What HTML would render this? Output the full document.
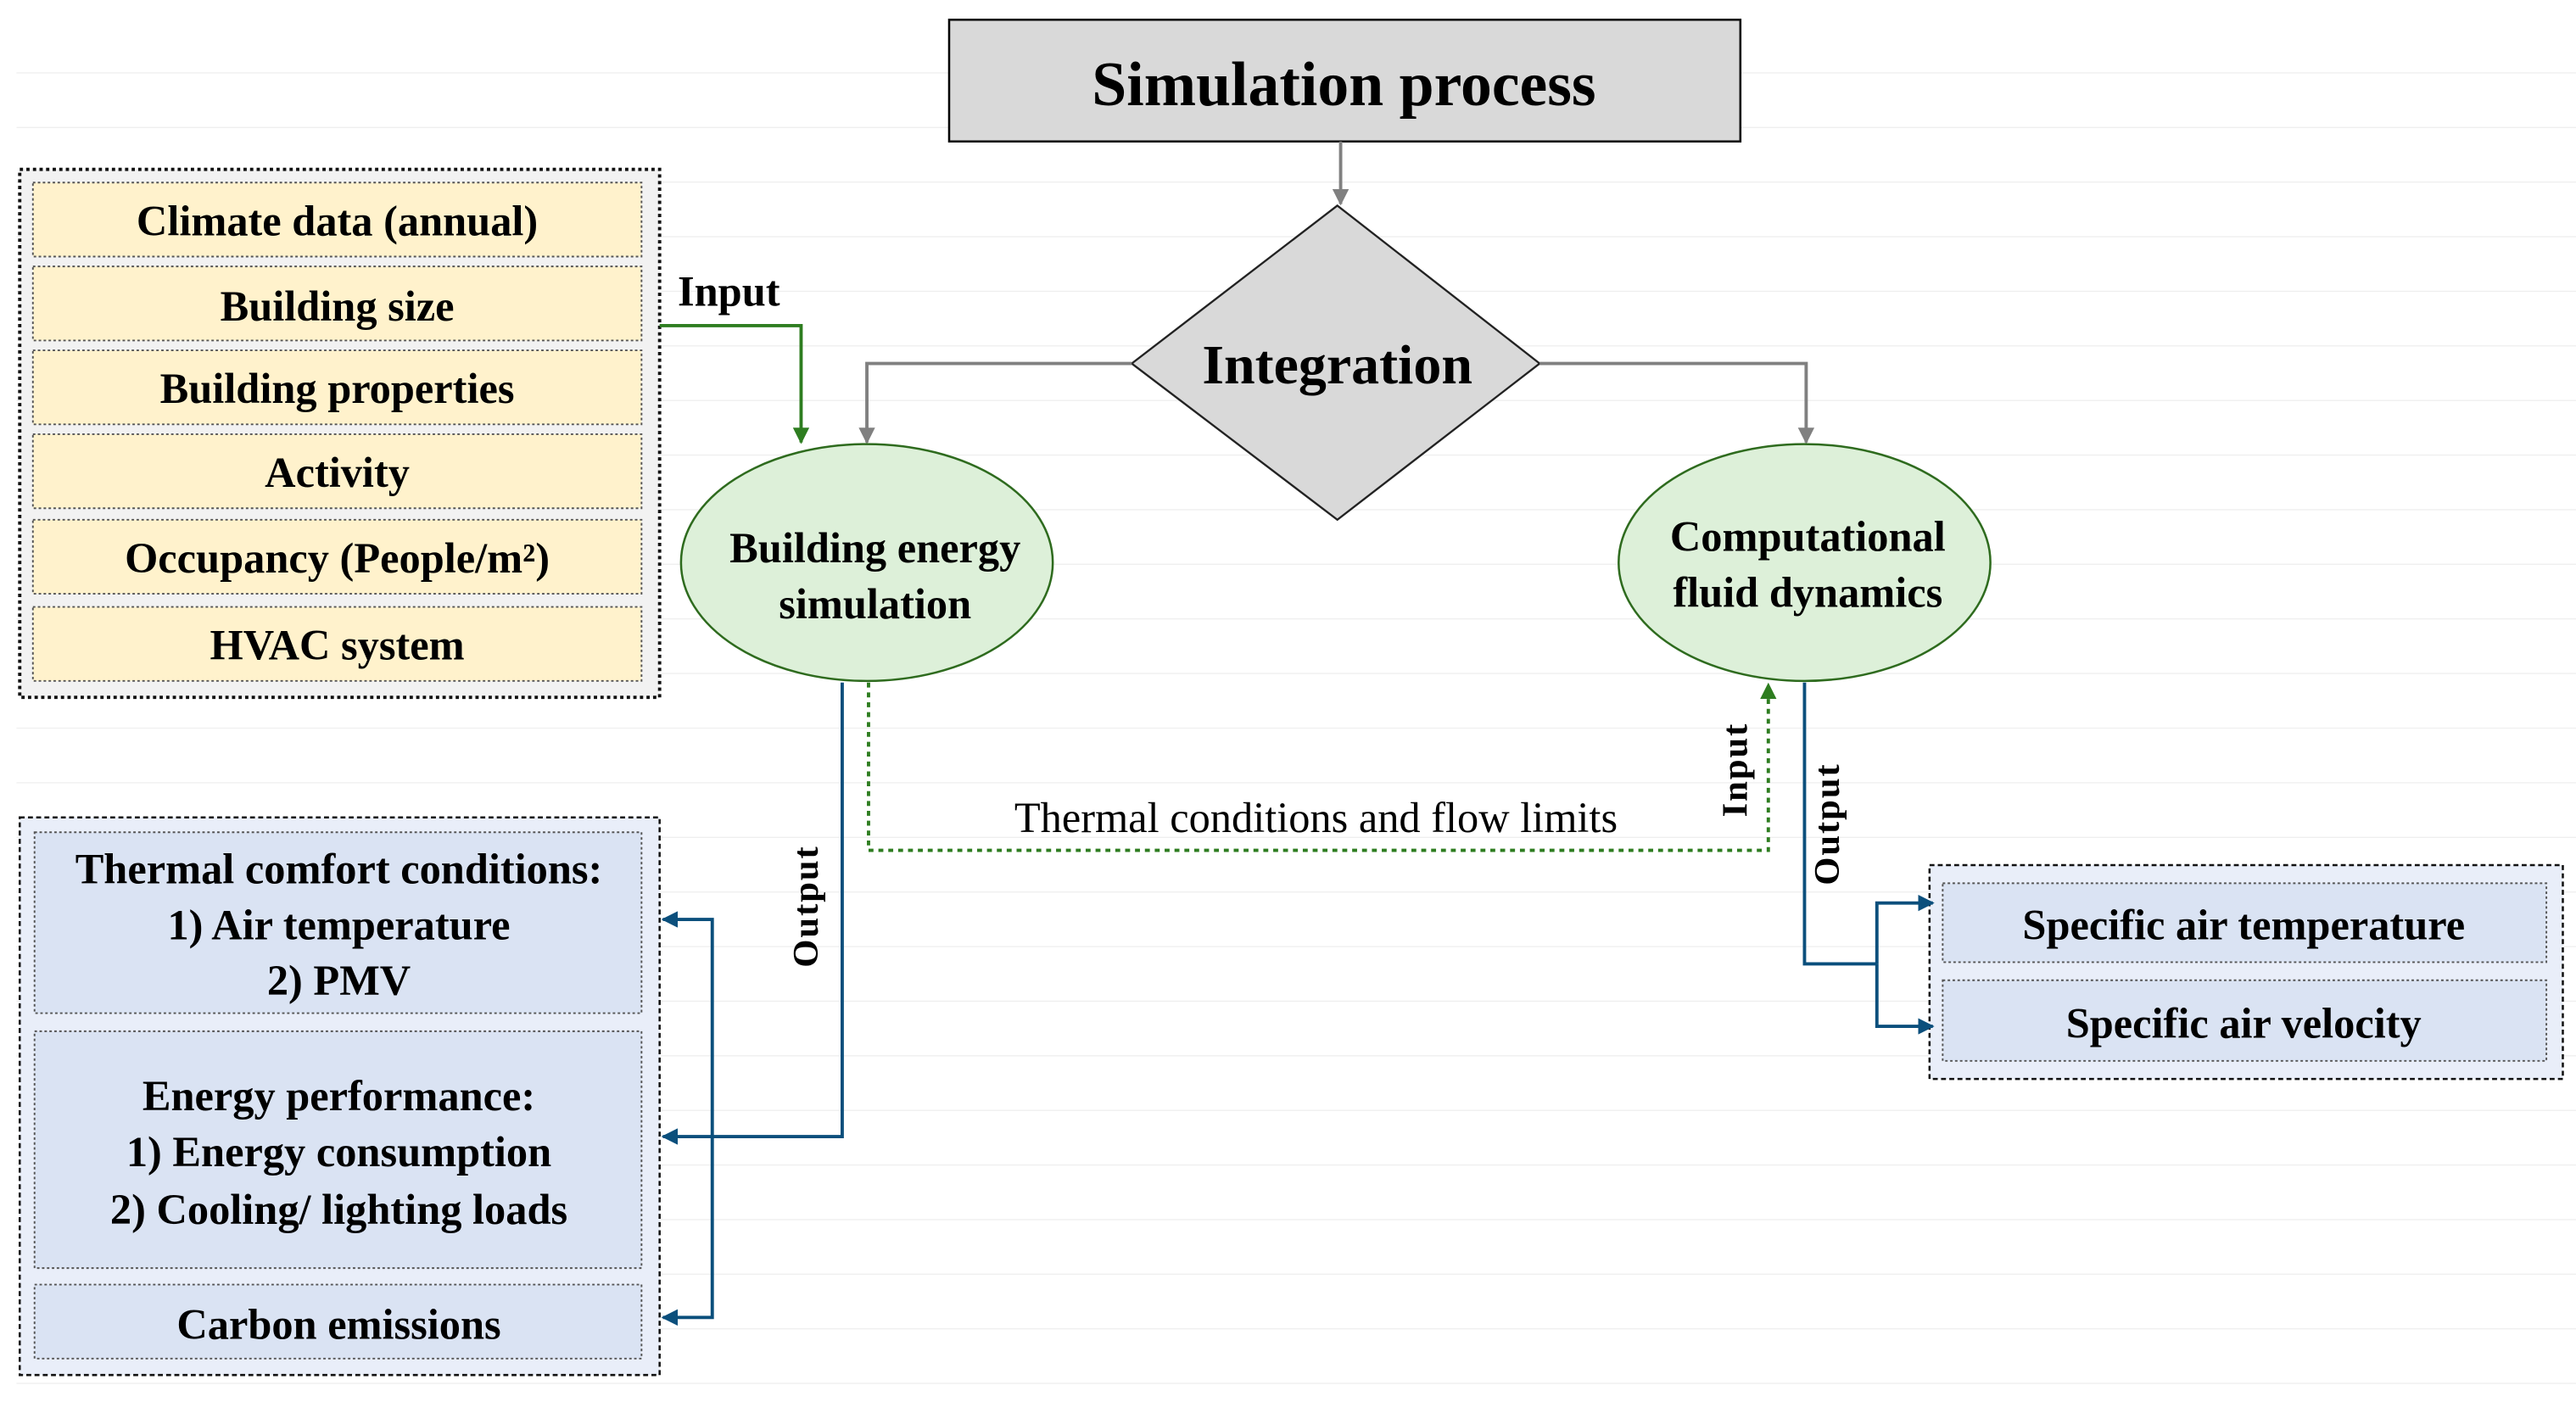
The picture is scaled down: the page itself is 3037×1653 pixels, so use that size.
<!DOCTYPE html>
<html><head><meta charset="utf-8"><style>
html,body{margin:0;padding:0;background:#fff}
svg{display:block}
text{font-family:"Liberation Serif",serif;font-weight:bold;fill:#000}
</style></head><body>
<svg width="3037" height="1653" viewBox="0 0 1566 852.4" preserveAspectRatio="none" xmlns="http://www.w3.org/2000/svg">
<defs>
<marker id="ag" viewBox="0 0 10 10" refX="9" refY="5" markerWidth="5" markerHeight="5" orient="auto"><path d="M0,0L10,5L0,10z" fill="#808080"/></marker>
<marker id="agr" viewBox="0 0 10 10" refX="9" refY="5" markerWidth="5" markerHeight="5" orient="auto"><path d="M0,0L10,5L0,10z" fill="#2e7d20"/></marker>
<marker id="ab" viewBox="0 0 10 10" refX="9" refY="5" markerWidth="5" markerHeight="5" orient="auto"><path d="M0,0L10,5L0,10z" fill="#0b4f7c"/></marker>
</defs>
<g stroke="#efefef" stroke-width="0.7">
<line x1="10" y1="44.3" x2="1566" y2="44.3"/><line x1="10" y1="77.5" x2="1566" y2="77.5"/><line x1="10" y1="110.7" x2="1566" y2="110.7"/><line x1="10" y1="143.9" x2="1566" y2="143.9"/><line x1="10" y1="177.1" x2="1566" y2="177.1"/><line x1="10" y1="210.3" x2="1566" y2="210.3"/><line x1="10" y1="243.5" x2="1566" y2="243.5"/><line x1="10" y1="276.7" x2="1566" y2="276.7"/><line x1="10" y1="309.9" x2="1566" y2="309.9"/><line x1="10" y1="343.1" x2="1566" y2="343.1"/><line x1="10" y1="376.3" x2="1566" y2="376.3"/><line x1="10" y1="409.5" x2="1566" y2="409.5"/><line x1="10" y1="442.7" x2="1566" y2="442.7"/><line x1="10" y1="475.9" x2="1566" y2="475.9"/><line x1="10" y1="509.1" x2="1566" y2="509.1"/><line x1="10" y1="542.3" x2="1566" y2="542.3"/><line x1="10" y1="575.5" x2="1566" y2="575.5"/><line x1="10" y1="608.7" x2="1566" y2="608.7"/><line x1="10" y1="641.9" x2="1566" y2="641.9"/><line x1="10" y1="675.1" x2="1566" y2="675.1"/><line x1="10" y1="708.3" x2="1566" y2="708.3"/><line x1="10" y1="741.5" x2="1566" y2="741.5"/><line x1="10" y1="774.7" x2="1566" y2="774.7"/><line x1="10" y1="807.9" x2="1566" y2="807.9"/><line x1="10" y1="841.1" x2="1566" y2="841.1"/>
</g>
<rect x="577" y="12" width="481" height="74" fill="#d9d9d9" stroke="#000" stroke-width="1.3"/>
<text x="817" y="64" font-size="38" text-anchor="middle">Simulation process</text>
<line x1="815" y1="86" x2="815" y2="124" stroke="#808080" stroke-width="2" marker-end="url(#ag)"/>
<polygon points="813,125 936,221 813,316 688,221" fill="#d9d9d9" stroke="#222" stroke-width="1.2"/>
<text x="813" y="233" font-size="34" text-anchor="middle">Integration</text>
<polyline points="688,221 527,221 527,269" fill="none" stroke="#808080" stroke-width="2" marker-end="url(#ag)"/>
<polyline points="936,221 1098,221 1098,269" fill="none" stroke="#808080" stroke-width="2" marker-end="url(#ag)"/>
<ellipse cx="527" cy="342" rx="113" ry="72" fill="#ddf0d9" stroke="#2e6b1e" stroke-width="1.3"/>
<text x="532" y="342" font-size="26" text-anchor="middle">Building energy</text>
<text x="532" y="376" font-size="26" text-anchor="middle">simulation</text>
<ellipse cx="1097" cy="342" rx="113" ry="72" fill="#ddf0d9" stroke="#2e6b1e" stroke-width="1.3"/>
<text x="1099" y="335" font-size="26" text-anchor="middle">Computational</text>
<text x="1099" y="369" font-size="26" text-anchor="middle">fluid dynamics</text>
<rect x="12" y="103" width="389" height="321" fill="#f2f2f2" stroke="#111" stroke-width="2" stroke-dasharray="2,2"/>
<g fill="#fff2cc" stroke="#555" stroke-width="1" stroke-dasharray="1.5,1.5">
<rect x="20" y="111" width="370" height="45"/><rect x="20" y="162" width="370" height="45"/><rect x="20" y="213" width="370" height="45"/><rect x="20" y="264" width="370" height="45"/><rect x="20" y="316" width="370" height="45"/><rect x="20" y="369" width="370" height="45"/>
</g>
<g font-size="26" text-anchor="middle">
<text x="205" y="143">Climate data (annual)</text>
<text x="205" y="195">Building size</text>
<text x="205" y="245">Building properties</text>
<text x="205" y="296">Activity</text>
<text x="205" y="348">Occupancy (People/m²)</text>
<text x="205" y="401">HVAC system</text>
</g>
<text x="412" y="186" font-size="26">Input</text>
<polyline points="401,198 487,198 487,269" fill="none" stroke="#2e7d20" stroke-width="2" marker-end="url(#agr)"/>
<rect x="12" y="497" width="389" height="339" fill="#e9eef9" stroke="#111" stroke-width="1.3" stroke-dasharray="3,2"/>
<g fill="#dae3f3" stroke="#555" stroke-width="1" stroke-dasharray="1.5,1.5">
<rect x="21" y="506" width="369" height="110"/><rect x="21" y="627" width="369" height="144"/><rect x="21" y="781" width="369" height="45"/>
</g>
<g font-size="26" text-anchor="middle">
<text x="206" y="537">Thermal comfort conditions:</text>
<text x="206" y="571">1) Air temperature</text>
<text x="206" y="605">2) PMV</text>
<text x="206" y="675">Energy performance:</text>
<text x="206" y="709">1) Energy consumption</text>
<text x="206" y="744">2) Cooling/ lighting loads</text>
<text x="206" y="814">Carbon emissions</text>
</g>
<polyline points="512,415 512,691 403,691" fill="none" stroke="#0b4f7c" stroke-width="2" marker-end="url(#ab)"/>
<polyline points="433,691 433,559 403,559" fill="none" stroke="#0b4f7c" stroke-width="2" marker-end="url(#ab)"/>
<polyline points="433,691 433,801 403,801" fill="none" stroke="#0b4f7c" stroke-width="2" marker-end="url(#ab)"/>
<text transform="translate(497,551) rotate(-90)" font-size="22" letter-spacing="1" text-anchor="middle">Output</text>
<polyline points="528,415 528,517 1075,517 1075,416" fill="none" stroke="#2e7d20" stroke-width="2" stroke-dasharray="3,3" marker-end="url(#agr)"/>
<text x="800" y="506" font-size="26" style="font-weight:normal" text-anchor="middle">Thermal conditions and flow limits</text>
<text transform="translate(1062,468) rotate(-90)" font-size="22" letter-spacing="1" text-anchor="middle">Input</text>
<text transform="translate(1118,501) rotate(-90)" font-size="22" letter-spacing="1" text-anchor="middle">Output</text>
<rect x="1173" y="526" width="385" height="130" fill="#e9eef9" stroke="#111" stroke-width="1.3" stroke-dasharray="3,2"/>
<g fill="#dae3f3" stroke="#555" stroke-width="1" stroke-dasharray="1.5,1.5">
<rect x="1181" y="537" width="367" height="48"/><rect x="1181" y="596" width="367" height="49"/>
</g>
<g font-size="26" text-anchor="middle">
<text x="1364" y="571">Specific air temperature</text>
<text x="1364" y="631">Specific air velocity</text>
</g>
<polyline points="1097,415 1097,586 1141,586" fill="none" stroke="#0b4f7c" stroke-width="2"/>
<polyline points="1141,586 1141,549 1175,549" fill="none" stroke="#0b4f7c" stroke-width="2" marker-end="url(#ab)"/>
<polyline points="1141,586 1141,624 1175,624" fill="none" stroke="#0b4f7c" stroke-width="2" marker-end="url(#ab)"/>
</svg>
</body></html>
